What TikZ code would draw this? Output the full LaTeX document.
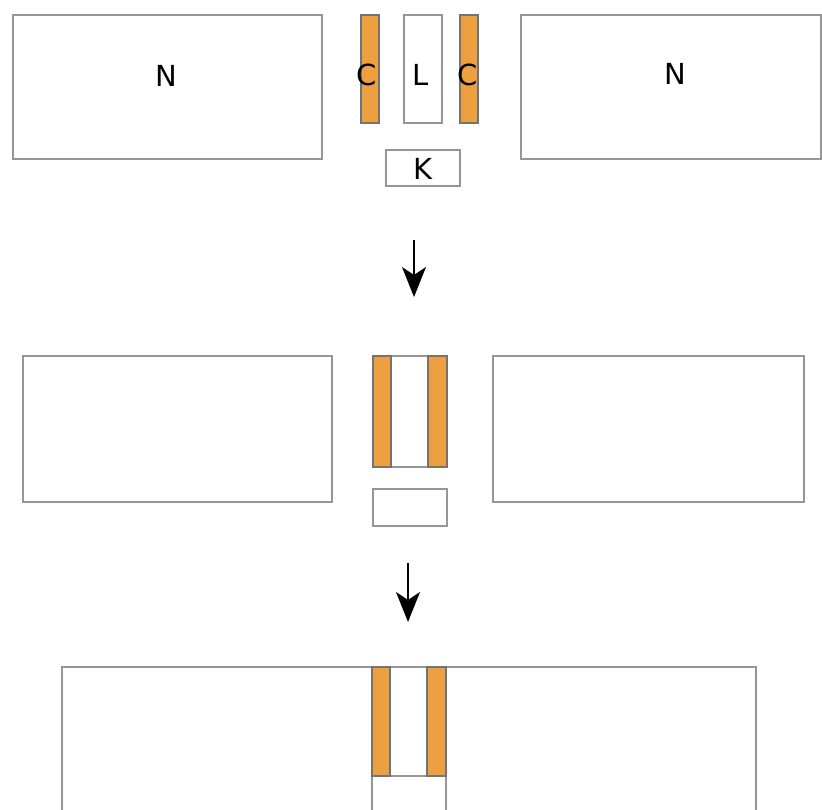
\documentclass[tikz,border=0pt]{standalone}
\usepackage{fontspec}
\setmainfont{DejaVu Sans}
\usetikzlibrary{arrows.meta}
\definecolor{coilorange}{RGB}{236,160,64}
\definecolor{edgegray}{RGB}{150,150,150}

\begin{document}
\begin{tikzpicture}[x=1pt,y=-1pt,
    block/.style={draw=edgegray,line width=1.6pt},
    coil/.style={draw=black!55,fill=coilorange,line width=1.4pt},
    tag/.style={inner sep=0pt,font=\fontsize{29}{33}\selectfont},
    flow/.style={draw=black,line width=2pt,-{Stealth[length=30pt,width=24pt,inset=8pt]}}]
\useasboundingbox (0,0) rectangle (822,810);
% parts apart
\draw[block] (13,15) rectangle (322,159);
\draw[block] (521,15) rectangle (821,159);
\draw[coil] (361,15) rectangle (379,123);
\draw[block] (404,15) rectangle (442,123);
\draw[coil] (460,15) rectangle (478,123);
\draw[block] (386,150) rectangle (460,186);
\node[tag] (nleft) at (166,76) {N};
\node[tag] (nright) at (675,74) {N};
\node[tag] (cleft) at (367,75) {C};
\node[tag] (lmid) at (421,75) {L};
\node[tag] (cright) at (468,75) {C};
\node[tag] (kbot) at (423,169) {K};
\coordinate (step1a) at (414,240);
\coordinate (step1b) at (414,297);
\draw[flow] (step1a) -- (step1b);
% coils on the core
\draw[block] (23,356) rectangle (332,502);
\draw[block] (493,356) rectangle (804,502);
\draw[block] (373,356) rectangle (447,467);
\draw[coil] (373,356) rectangle (391,467);
\draw[coil] (428,356) rectangle (447,467);
\draw[block] (373,489) rectangle (447,526);
\coordinate (step2a) at (408,563);
\coordinate (step2b) at (408,622);
\draw[flow] (step2a) -- (step2b);
% assembled
\draw[block] (62,812) -- (62,667) -- (756,667) -- (756,812);
\draw[block] (372,667) rectangle (446,776);
\draw[block] (372,812) -- (372,776) -- (446,776) -- (446,812);
\draw[coil] (372,667) rectangle (390,776);
\draw[coil] (427,667) rectangle (446,776);
\end{tikzpicture}
\end{document}
